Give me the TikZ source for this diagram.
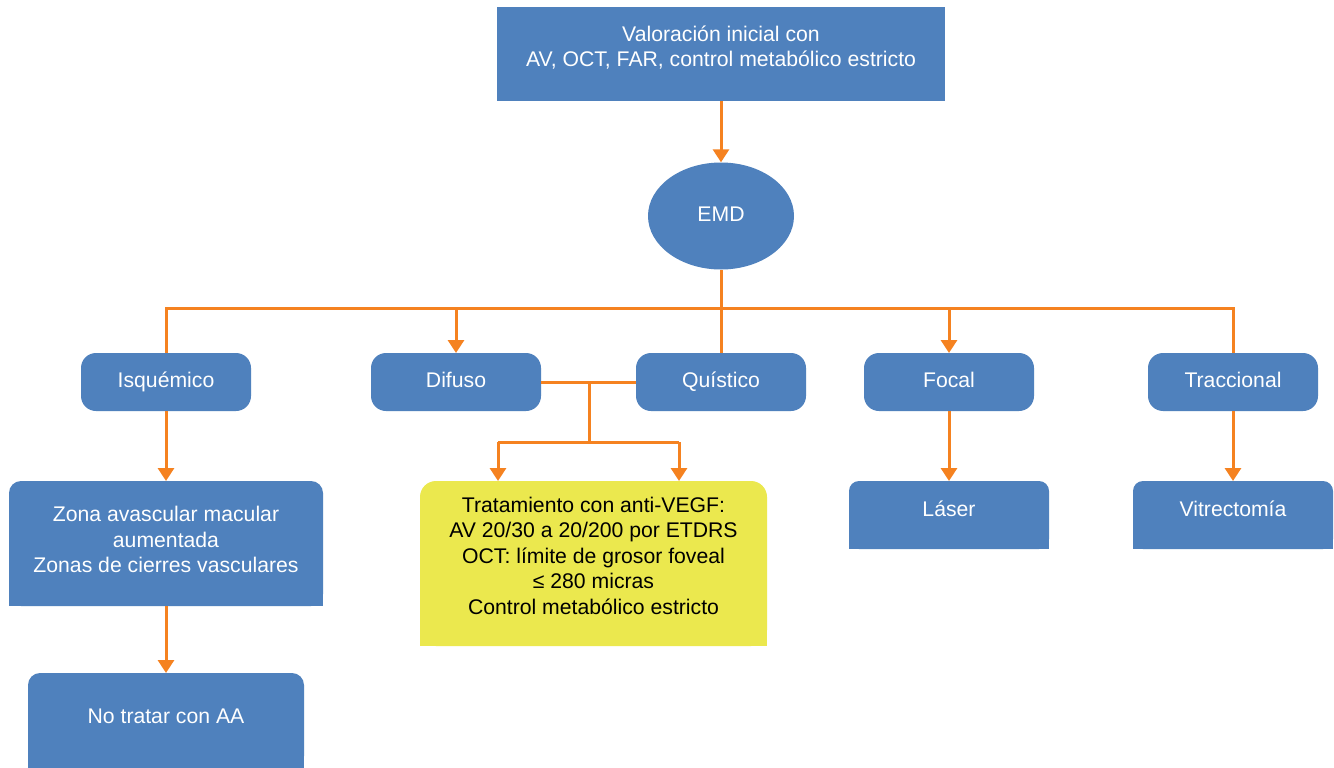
\documentclass[tikz,border=0pt]{standalone}
\usepackage{fontspec}
\setmainfont{Liberation Sans}
\usetikzlibrary{arrows.meta,shapes.geometric,backgrounds}
\definecolor{boxblue}{RGB}{79,129,189}
\definecolor{lineor}{RGB}{245,130,32}
\definecolor{yelbox}{RGB}{235,232,78}
\begin{document}
\begin{tikzpicture}[x=1pt,y=-1pt,
  conn/.style={draw=lineor,line width=3pt},
  arr/.style={conn,-{Triangle[width=16pt,length=13pt]}},
  txt/.style={font=\fontsize{21.2}{25.5}\selectfont,align=center,text=white,inner sep=0pt},
  one/.style={text height=15pt,text depth=4.5pt},
  rbox/.style={fill=boxblue,rounded corners=15pt,inner sep=0pt,outer sep=0pt,
     minimum width=170pt,minimum height=58pt,txt,one},
  tbox/.style={inner sep=0pt,outer sep=0pt},
]
\useasboundingbox (0,0) rectangle (1334,768);

% top box
\node[tbox,fill=boxblue,minimum width=448pt,minimum height=94pt] (top) at (721,54) {};
\node[txt,yshift=6.5pt] (topT) at (top) {Valoración inicial con\\AV, OCT, FAR, control metabólico estricto};

% EMD
\node[ellipse,fill=boxblue,inner sep=0pt,minimum width=146pt,minimum height=107pt,txt,one] (emd) at (721,216) {EMD};

% row 2
\node[rbox] (isq) at (166,382) {Isquémico};
\node[rbox] (dif) at (456,382) {Difuso};
\node[rbox] (qui) at (721,382) {Quístico};
\node[rbox] (foc) at (949,382) {Focal};
\node[rbox] (tra) at (1233,382) {Traccional};

% bottom boxes (shape drawn on background layer)
\node[tbox,minimum width=314pt,minimum height=125pt] (zona) at (166,543.5) {};
\node[txt,yshift=4pt] (zonaT) at (zona) {Zona avascular macular\\aumentada\\Zonas de cierres vasculares};
\node[tbox,minimum width=276pt,minimum height=95pt] (notr) at (166,720.5) {};
\node[txt,one,yshift=2.5pt] (notrT) at (notr) {No tratar con AA};
\node[tbox,minimum width=347pt,minimum height=165pt] (yel) at (593.5,563.5) {};
\node[txt,text=black,yshift=8pt] (yelT) at (yel) {Tratamiento con anti-VEGF:\\AV 20/30 a 20/200 por ETDRS\\OCT: límite de grosor foveal\\≤ 280 micras\\Control metabólico estricto};
\node[tbox,minimum width=200pt,minimum height=68pt] (las) at (949,515) {};
\node[txt,one,yshift=4pt] (lasT) at (las) {Láser};
\node[tbox,minimum width=200pt,minimum height=68pt] (vit) at (1233,515) {};
\node[txt,one,yshift=4pt] (vitT) at (vit) {Vitrectomía};

\begin{scope}[on background layer]
  \fill[white] (0,0) rectangle (1334,768);
  \foreach \b/\c/\r in {zona/boxblue/12pt,notr/boxblue/12pt,yel/yelbox/16pt,las/boxblue/10pt,vit/boxblue/10pt}{
    \fill[\c,rounded corners=\r] (\b.south west) rectangle (\b.north east);
    \fill[\c] (\b.south west) rectangle (\b.east);
  }
\end{scope}

% connectors
\draw[arr] (top) -- (emd);
\coordinate (bus) at (721,308);
\draw[conn] (emd) -- (bus);
\draw[conn] (isq.north) |- (bus) -| (tra.north);
\draw[conn] (bus) -- (qui.north);
\draw[arr] (bus -| dif.north) -- (dif.north);
\draw[arr] (bus -| foc.north) -- (foc.north);

\draw[conn] (dif.east) -- (qui.west);
\coordinate (j1) at (589,382);
\coordinate (j2) at (589,442);
\coordinate (ha) at (498,442);
\coordinate (hb) at (679,442);
\draw[conn] (j1) -- (j2);
\draw[conn] (ha) -- (hb);
\draw[arr] (ha) -- (ha |- yel.north);
\draw[arr] (hb) -- (hb |- yel.north);

\draw[arr] (isq) -- (zona);
\draw[arr] (zona) -- (notr);
\draw[arr] (foc) -- (las);
\draw[arr] (tra) -- (vit);
\end{tikzpicture}
\end{document}
